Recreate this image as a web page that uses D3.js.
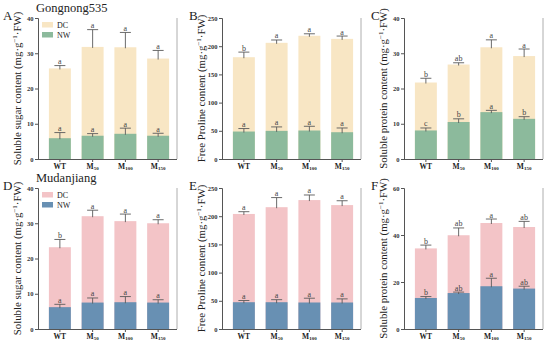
<!DOCTYPE html>
<html><head><meta charset="utf-8">
<script src="https://cdn.jsdelivr.net/npm/d3@7"></script>
<style>
body{margin:0;background:#fff;}
svg{display:block;}
svg text{font-family:"Liberation Serif","DejaVu Serif",serif;}
</style></head>
<body><svg id="c" width="550" height="344"></svg>
<script>
const categories = ["WT","M50","M100","M150"];
const catLabels = [["WT",""],["M","50"],["M","100"],["M","150"]];

// Gongnong535
const sugarGN_DC = [25.7, 31.8, 31.7, 28.5];
const sugarGN_DC_err = [0.8, 4.9, 4.2, 2.3];
const sugarGN_NW = [5.9, 6.6, 7.15, 6.6];
const sugarGN_NW_err = [1.6, 0.6, 1.6, 0.7];
const sugarGN_DC_sig = ["a","a","a","a"];
const sugarGN_NW_sig = ["a","a","a","a"];

const prolineGN_DC = [180.5, 206, 218.5, 213];
const prolineGN_DC_err = [9, 5, 3.5, 5];
const prolineGN_NW = [48.7, 49.9, 50.5, 47.5];
const prolineGN_NW_err = [5.3, 7, 7.5, 7.5];
const prolineGN_DC_sig = ["b","a","a","a"];
const prolineGN_NW_sig = ["a","a","a","a"];

const proteinGN_DC = [21.7, 26.8, 31.7, 29.2];
const proteinGN_DC_err = [1.2, 0.5, 2.1, 2.0];
const proteinGN_NW = [8.1, 10.5, 13.3, 11.4];
const proteinGN_NW_err = [0.7, 0.9, 0.5, 0.6];
const proteinGN_DC_sig = ["b","ab","a","a"];
const proteinGN_NW_sig = ["c","b","a","b"];

// Mudanjiang
const sugarMD_DC = [23.2, 32.0, 30.6, 30.0];
const sugarMD_DC_err = [2.2, 1.7, 2.0, 1.0];
const sugarMD_NW = [6.2, 7.5, 7.6, 7.5];
const sugarMD_NW_err = [0.8, 1.3, 1.6, 0.8];
const sugarMD_DC_sig = ["b","a","a","a"];
const sugarMD_NW_sig = ["a","a","a","a"];

const prolineMD_DC = [204, 216, 228.6, 219.7];
const prolineMD_DC_err = [4, 17, 9, 7.7];
const prolineMD_NW = [47.5, 47.5, 47, 47];
const prolineMD_NW_err = [3, 4.5, 7.6, 6.4];
const prolineMD_DC_sig = ["a","a","a","a"];
const prolineMD_NW_sig = ["a","a","a","a"];

const proteinMD_DC = [34.3, 39.9, 45.1, 43.4];
const proteinMD_DC_err = [1.4, 3.1, 1.7, 2.4];
const proteinMD_NW = [13.2, 15.3, 18.2, 17.2];
const proteinMD_NW_err = [0.6, 0.4, 3.4, 1.0];
const proteinMD_DC_sig = ["b","ab","a","ab"];
const proteinMD_NW_sig = ["b","ab","a","ab"];

const ticksSugar = [0,10,20,30,40];
const ticksProline = [0,50,100,150,200,250];
const ticksProteinGN = [0,10,20,30,40];
const ticksProteinMD = [0,20,40,60];

const colGN = {DC:"#f8e6c4", NW:"#8cba9c"};
const colMD = {DC:"#f3c4c7", NW:"#6890b3"};

const FONT = "'Liberation Serif','DejaVu Serif',serif";
const svg = d3.select("#c");

function panel(o){
  const g = svg.append("g");
  const top = o.top, bot = o.top + 141;
  const x = d3.scaleBand().domain(categories).range([o.x0+5.5, o.x0+136.5]).paddingInner(0.33).paddingOuter(0.165);
  const ymax = o.ticks[o.ticks.length-1];
  const y = d3.scaleLinear().domain([0, ymax]).range([bot, top]);

  ["DC","NW"].forEach(s=>{
    const vals = o[s];
    g.selectAll(null).data(categories).enter().append("rect")
      .attr("x", d=>x(d)).attr("width", x.bandwidth())
      .attr("y", (d,i)=>y(vals[i])).attr("height",(d,i)=>bot - y(vals[i]))
      .attr("fill", o.col[s]);
  });
  ["DC","NW"].forEach(s=>{
    const vals = o[s], errs = o[s+"err"], sig = o[s+"sig"];
    categories.forEach((c,i)=>{
      const cx = x(c) + x.bandwidth()/2;
      const yt = y(vals[i]+errs[i]);
      g.append("line").attr("x1",cx).attr("x2",cx).attr("y1",y(vals[i])+1).attr("y2",yt)
        .attr("stroke","#5a5a5a").attr("stroke-width",0.9);
      g.append("line").attr("x1",cx-5.5).attr("x2",cx+5.5).attr("y1",yt).attr("y2",yt)
        .attr("stroke","#5a5a5a").attr("stroke-width",0.9);
      g.append("text").attr("x",cx).attr("y",yt-1.5).attr("text-anchor","middle")
        .attr("font-family",FONT).attr("font-size",8).attr("fill","#444").text(sig[i]);
    });
  });

  const ya = g.append("g").attr("transform",`translate(${o.x0},0)`)
    .call(d3.axisLeft(y).tickValues(o.ticks).tickSize(3).tickPadding(1.5).tickFormat(d3.format("d")));
  ya.attr("font-family",FONT);
  ya.select(".domain").attr("stroke","#555");
  ya.selectAll(".tick line").attr("stroke","#555");
  ya.selectAll("text").attr("font-size",6.5).attr("font-weight","bold").attr("fill","#333");
  const xa = g.append("g").attr("transform",`translate(0,${bot})`)
    .call(d3.axisBottom(x).tickSize(3).tickSizeOuter(0).tickFormat(""));
  xa.select(".domain").attr("d",`M${o.x0},0.5H${o.x0+139}`).attr("stroke","#555");
  xa.selectAll(".tick line").attr("stroke","#555");
  g.append("line").attr("x1",o.x0+139).attr("x2",o.x0+139).attr("y1",top).attr("y2",bot)
    .attr("stroke","#999").attr("stroke-width",0.8);
  categories.forEach((c,i)=>{
    const t = g.append("text").attr("x", x(c)+x.bandwidth()/2).attr("y", bot+9.5)
      .attr("text-anchor","middle").attr("font-family",FONT).attr("font-size",7.5).attr("font-weight","bold").attr("fill","#222");
    t.append("tspan").text(catLabels[i][0]);
    if(catLabels[i][1]) t.append("tspan").attr("font-size",5).attr("dy",1.5).text(catLabels[i][1]);
  });
  const yl = g.append("text").attr("transform",`translate(${o.x0-17},${(top+bot)/2}) rotate(-90)`)
    .attr("text-anchor","middle").attr("font-family",FONT).attr("font-size",10.8).attr("fill","#222");
  yl.append("tspan").text(o.ylabel+" (mg·g");
  yl.append("tspan").attr("font-size",7).attr("dy",-4).text("−1");
  yl.append("tspan").attr("dy",4).text("·FW)");
  g.append("text").attr("x",o.lx).attr("y",top+2).attr("font-family",FONT).attr("font-size",13).attr("fill","#222").text(o.letter);
  if(o.title){
    g.append("text").attr("x",o.x0-2).attr("y",top-6).attr("font-family",FONT).attr("font-size",12.5).attr("fill","#222").text(o.title);
  }
  if(o.legend){
    [["DC",0],["NW",1]].forEach(([s,k])=>{
      g.append("rect").attr("x",o.x0+4).attr("y",top+4+k*10).attr("width",11).attr("height",5.5).attr("fill",o.col[s]);
      g.append("text").attr("x",o.x0+19).attr("y",top+9.5+k*10).attr("font-family",FONT).attr("font-size",8).attr("fill","#222").text(s);
    });
  }
}

panel({x0:38, top:18, ticks:ticksSugar, DC:sugarGN_DC, DCerr:sugarGN_DC_err, DCsig:sugarGN_DC_sig,
  NW:sugarGN_NW, NWerr:sugarGN_NW_err, NWsig:sugarGN_NW_sig, col:colGN, ylabel:"Soluble sugar content",
  letter:"A", lx:3, title:"Gongnong535", legend:true});
panel({x0:222, top:18, ticks:ticksProline, DC:prolineGN_DC, DCerr:prolineGN_DC_err, DCsig:prolineGN_DC_sig,
  NW:prolineGN_NW, NWerr:prolineGN_NW_err, NWsig:prolineGN_NW_sig, col:colGN, ylabel:"Free Proline content",
  letter:"B", lx:189});
panel({x0:404, top:18, ticks:ticksProteinGN, DC:proteinGN_DC, DCerr:proteinGN_DC_err, DCsig:proteinGN_DC_sig,
  NW:proteinGN_NW, NWerr:proteinGN_NW_err, NWsig:proteinGN_NW_sig, col:colGN, ylabel:"Soluble protein content",
  letter:"C", lx:371});
panel({x0:38, top:188, ticks:ticksSugar, DC:sugarMD_DC, DCerr:sugarMD_DC_err, DCsig:sugarMD_DC_sig,
  NW:sugarMD_NW, NWerr:sugarMD_NW_err, NWsig:sugarMD_NW_sig, col:colMD, ylabel:"Soluble sugar content",
  letter:"D", lx:3, title:"Mudanjiang", legend:true});
panel({x0:222, top:188, ticks:ticksProline, DC:prolineMD_DC, DCerr:prolineMD_DC_err, DCsig:prolineMD_DC_sig,
  NW:prolineMD_NW, NWerr:prolineMD_NW_err, NWsig:prolineMD_NW_sig, col:colMD, ylabel:"Free Proline content",
  letter:"E", lx:189});
panel({x0:404, top:188, ticks:ticksProteinMD, DC:proteinMD_DC, DCerr:proteinMD_DC_err, DCsig:proteinMD_DC_sig,
  NW:proteinMD_NW, NWerr:proteinMD_NW_err, NWsig:proteinMD_NW_sig, col:colMD, ylabel:"Soluble protein content",
  letter:"F", lx:371});
</script></body></html>
